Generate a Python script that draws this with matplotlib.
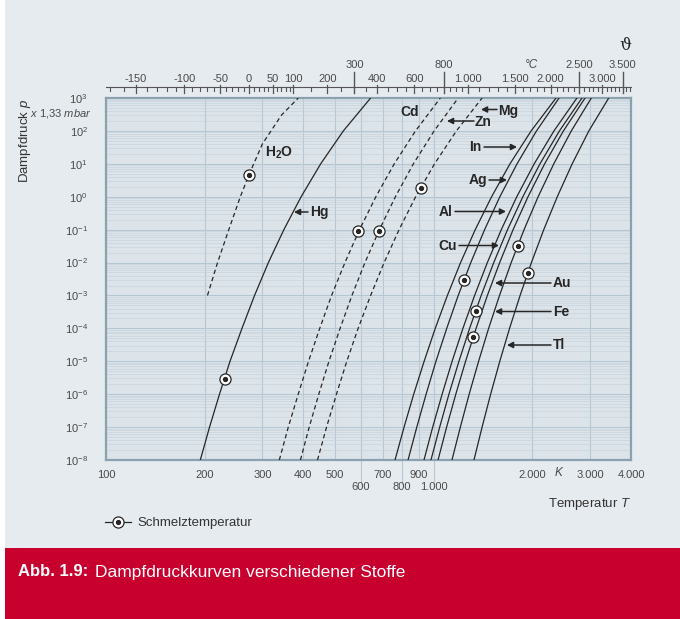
"""Abb. 1.9: Dampfdruckkurven verschiedener Stoffe (log p over log T)."""

import matplotlib.pyplot as plt
import numpy as np
from matplotlib.legend_handler import HandlerTuple
from matplotlib.lines import Line2D
from matplotlib.patches import Rectangle
from matplotlib.ticker import LogLocator, NullFormatter, NullLocator
from matplotlib.transforms import blended_transform_factory

plt.rcParams["font.family"] = ["Liberation Sans", "DejaVu Sans"]
plt.rcParams["mathtext.fontset"] = "custom"
plt.rcParams["mathtext.rm"] = "Liberation Sans"
plt.rcParams["mathtext.it"] = "Liberation Sans:italic"
plt.rcParams["mathtext.bf"] = "Liberation Sans:bold"

BG = "#E6EBEF"
PLOT_BG = "#DCE4EA"
GRID = "#B7C7D2"
GRID_MINOR = "#C7D3DC"
FRAME = "#8CA1AF"
INK = "#262626"
TICK_TXT = "#4A4A4A"
RED = "#C8002E"
W, H = 680, 619

# pressure decades (x 1,33 mbar)
P_DEC = [1e-8, 1e-7, 1e-6, 1e-5, 1e-4, 1e-3, 1e-2, 1e-1, 1e0, 1e1, 1e2, 1e3]
P_LABELS = ["10^{-8}", "10^{-7}", "10^{-6}", "10^{-5}", "10^{-4}", "10^{-3}",
            "10^{-2}", "10^{-1}", "10^{0}", "10^{1}", "10^{2}", "10^{3}"]

# temperature (K) read at each pressure decade
T_HG = [194, 207, 222, 239, 260, 284, 313, 349, 394, 452, 530, 642]
T_CD = [338, 360, 386, 415, 449, 488, 536, 594, 666, 758, 880, 1048]
T_ZN = [392, 417, 446, 479, 518, 563, 617, 683, 764, 867, 1003, 1188]
T_MG = [442, 471, 505, 543, 588, 642, 706, 784, 881, 1006, 1173, 1405]
T_IN = [762, 812, 869, 935, 1011, 1101, 1208, 1339, 1502, 1709, 1983, 2362]
T_AG = [835, 888, 948, 1016, 1096, 1188, 1298, 1430, 1592, 1796, 2059, 2413]
T_AL = [934, 993, 1061, 1138, 1228, 1333, 1458, 1608, 1793, 2026, 2328, 2736]
T_CU = [981, 1043, 1113, 1194, 1287, 1396, 1525, 1680, 1871, 2110, 2419, 2835]
T_AU = [1031, 1095, 1168, 1251, 1347, 1458, 1590, 1747, 1940, 2180, 2488, 2897]
T_FE = [1137, 1206, 1283, 1371, 1471, 1588, 1724, 1887, 2083, 2325, 2630, 3027]
T_TI = [1327, 1405, 1492, 1591, 1704, 1835, 1987, 2167, 2383, 2646, 2975, 3420]

# water: own pressure points
P_H2O = [1e-3, 1e-2, 1e-1, 1e0, 4.6, 40, 300, 1e3]
T_H2O = [204, 219, 237, 257, 273, 300, 343, 386]

# melting points (Schmelztemperatur)
MP_T = [273, 230, 589, 681, 912, 1237, 1346, 1321, 1803, 1935]
MP_P = [4.6, 2.8e-6, 0.093, 0.093, 1.9, 2.9e-3, 3.3e-4, 5.6e-5, 0.032, 4.7e-3]

# Kelvin axis
K_TICKS = [100, 200, 300, 400, 500, 600, 700, 800, 900, 1000, 2000, 3000, 4000]
K_LABELS = ["100", "200", "300", "400", "500", "", "700", "", "900",
            "", "2.000", "3.000", "4.000"]
K_LOW = [600, 800, 1000]
K_LOW_LABELS = ["600", "800", "1.000"]

# Celsius axis
C_TICKS = [-150, -100, -50, 0, 50, 100, 200, 400, 600, 1000, 1500, 2000, 3000]
C_LABELS = ["-150", "-100", "-50", "0", "50", "100", "200", "400", "600",
            "1.000", "1.500", "2.000", "3.000"]
C_LONG = [300, 800, 2500, 3500]
C_LONG_LABELS = ["300", "800", "2.500", "3.500"]

CURVES = [
    (T_H2O, P_H2O, "dashed"),
    (T_HG, P_DEC, "solid"),
    (T_CD, P_DEC, "dashed"),
    (T_ZN, P_DEC, "dashed"),
    (T_MG, P_DEC, "dashed"),
    (T_IN, P_DEC, "solid"),
    (T_AG, P_DEC, "solid"),
    (T_AL, P_DEC, "solid"),
    (T_CU, P_DEC, "solid"),
    (T_AU, P_DEC, "solid"),
    (T_FE, P_DEC, "solid"),
    (T_TI, P_DEC, "solid"),
]


def fy(py: float) -> float:
    return 1 - py / H


def fp(px: float, py: float) -> tuple[float, float]:
    return (px, H - py)


fig = plt.figure(figsize=(W / 100, H / 100), dpi=100)
fig.patch.set_facecolor("white")
fig.add_artist(Rectangle((5 / W, 0), 1 - 5 / W, 1, transform=fig.transFigure,
                         facecolor=BG, edgecolor="none", zorder=-10))
fig.add_artist(Rectangle((5 / W, 0), 1 - 5 / W, (H - 548) / H, transform=fig.transFigure,
                         facecolor=RED, edgecolor="none", zorder=-9))

ax = fig.add_axes([106 / W, fy(460), 525 / W, 362 / H])
ax.set_facecolor(PLOT_BG)
ax.set_xscale("log")
ax.set_yscale("log")
ax.set_xlim(100, 4000)
ax.set_ylim(1e-8, 1e3)

ax.set_xticks(K_TICKS)
ax.set_xticklabels(K_LABELS)
ax.xaxis.set_minor_locator(NullLocator())
ax.set_yticks(P_DEC)
ax.set_yticklabels([rf"$\mathregular{{{s}}}$" for s in P_LABELS])
ax.yaxis.set_minor_locator(LogLocator(base=10, subs=np.arange(2, 10), numticks=200))
ax.yaxis.set_minor_formatter(NullFormatter())
ax.tick_params(which="both", length=0)
ax.tick_params(axis="x", pad=7, labelsize=8, labelcolor=TICK_TXT)
ax.tick_params(axis="y", pad=13, labelsize=8, labelcolor=TICK_TXT)
ax.grid(True, which="major", color=GRID, lw=0.8, zorder=0)
ax.grid(True, which="minor", axis="y", color=GRID_MINOR, lw=0.5, zorder=0)
for spine in ax.spines.values():
    spine.set_color(FRAME)
    spine.set_linewidth(1.6)

# drop lines to the lower label row
trans_ax = blended_transform_factory(ax.transData, ax.transAxes)
for t, lab in zip(K_LOW, K_LOW_LABELS):
    ax.plot([t, t], [0, -24 / 362], transform=trans_ax, color=GRID, lw=0.8, clip_on=False)
    ax.text(t, -27 / 362, lab, transform=trans_ax, ha="center", va="center",
            fontsize=8, color=TICK_TXT)
ax.text(2400, -13 / 362, "K", transform=trans_ax, ha="center", va="center",
        fontsize=8.5, style="italic", color=TICK_TXT)

# curves
for temps, press, style in CURVES:
    if style == "dashed":
        ax.plot(temps, press, color=INK, lw=0.9, ls=(0, (3.5, 2.5)), zorder=3)
    else:
        ax.plot(temps, press, color=INK, lw=0.9, zorder=3)

ax.plot(MP_T, MP_P, ls="none", marker="o", ms=8, mfc="white", mec=INK, mew=0.9, zorder=5)
ax.plot(MP_T, MP_P, ls="none", marker="o", ms=2.8, color=INK, zorder=6)

# Celsius scale on top
trans_top = blended_transform_factory(ax.transData, fig.transFigure)
TOP_COL = "#555555"
ax.plot([100, 4000], [fy(86.7)] * 2, transform=trans_top, color=TOP_COL, lw=0.8, clip_on=False)
minor_c = np.concatenate([np.arange(-170, 100, 10), np.arange(100, 1000, 50),
                          np.arange(1000, 3800, 100)])
for c in minor_c:
    if c in C_TICKS or c in C_LONG:
        continue
    ax.plot([c + 273.15] * 2, [fy(86.7), fy(91)], transform=trans_top,
            color=TOP_COL, lw=0.8, clip_on=False)
for c, lab in zip(C_TICKS, C_LABELS):
    ax.plot([c + 273.15] * 2, [fy(84.5), fy(92.5)], transform=trans_top,
            color=TOP_COL, lw=0.9, clip_on=False)
    ax.text(c + 273.15, fy(78.5), lab, transform=trans_top, ha="center", va="center",
            fontsize=8, color=TICK_TXT)
for c, lab in zip(C_LONG, C_LONG_LABELS):
    ax.plot([c + 273.15] * 2, [fy(72), fy(92.5)], transform=trans_top,
            color=TOP_COL, lw=1.0, clip_on=False)
    ax.text(c + 273.15, fy(65.5), lab, transform=trans_top, ha="center", va="center",
            fontsize=8, color=TICK_TXT)
fig.text(531 / W, fy(65.5), "°C", ha="center", va="center", fontsize=8.5,
         style="italic", color=TICK_TXT)
fig.text(625 / W, fy(46), "ϑ", ha="center", va="center", fontsize=12,
         family=["DejaVu Serif"], color=INK)

# axis titles
fig.text(25 / W, fy(99), r"Dampfdruck $\mathit{p}$", rotation=90, ha="center", va="top",
         fontsize=9.5, color="#333333")
fig.text(92 / W, fy(114), r"$\mathit{x}$ 1,33 $\mathit{mbar}$", ha="right", va="center",
         fontsize=8, color=TICK_TXT)
fig.text(631 / W, fy(504), r"Temperatur $\mathit{T}$", ha="right", va="center",
         fontsize=9.5, color="#333333")

# curve labels
LABEL_KW = dict(xycoords="figure pixels", fontsize=10, fontweight="bold", color=INK,
                va="center", zorder=7)
ARROW_KW = dict(arrowstyle="-|>,head_length=0.35,head_width=0.18", color=INK, lw=1.1,
                shrinkA=0, shrinkB=0)
ax.annotate(r"$\mathbf{H_2O}$", fp(265, 153), ha="left", **LABEL_KW)
ax.annotate("Cd", fp(410, 112), ha="center", **LABEL_KW)
for text, txt_xy, tail, tip, ha in [
    ("Hg", (310, 212), (308, 212), (294, 212), "left"),
    ("Zn", (475, 121.5), (474, 121), (447, 121), "left"),
    ("Mg", (498, 110.5), (497, 109.5), (481, 109.5), "left"),
    ("In", (481, 147), (484, 147), (517, 147), "right"),
    ("Ag", (487, 180), (489, 180), (507, 180), "right"),
    ("Al", (453, 211.7), (455, 211.5), (506, 211.5), "right"),
    ("Cu", (457, 245.5), (459, 245.5), (499, 245.5), "right"),
    ("Au", (553, 283), (551, 283), (495, 283), "left"),
    ("Fe", (553, 311.5), (551, 311.5), (495, 311.5), "left"),
    ("Tl", (553, 345), (551, 345), (507, 345), "left"),
]:
    ax.annotate(text, fp(*txt_xy), ha=ha, **LABEL_KW)
    ax.annotate("", xy=fp(*tip), xytext=fp(*tail), xycoords="figure pixels",
                textcoords="figure pixels", arrowprops=ARROW_KW, zorder=7)

# legend
ring = Line2D([], [], color=INK, lw=0.9, marker="o", ms=8, mfc="white", mec=INK, mew=0.9)
dot = Line2D([], [], ls="none", marker="o", ms=2.8, color=INK)
fig.legend(handles=[(ring, dot)], labels=["Schmelztemperatur"],
           handler_map={tuple: HandlerTuple(ndivide=1)},
           loc="center left", bbox_to_anchor=(93 / W, fy(523)), frameon=False,
           handlelength=2.0, handletextpad=0.5, fontsize=9.5, labelcolor="#333333")

# caption band
fig.text(18 / W, fy(572), "Abb. 1.9:", ha="left", va="center", fontsize=12,
         fontweight="bold", color="white")
fig.text(95 / W, fy(572), "Dampfdruckkurven verschiedener Stoffe", ha="left", va="center",
         fontsize=12.5, color="white")

fig.savefig("out.png", dpi=100, facecolor="white")
